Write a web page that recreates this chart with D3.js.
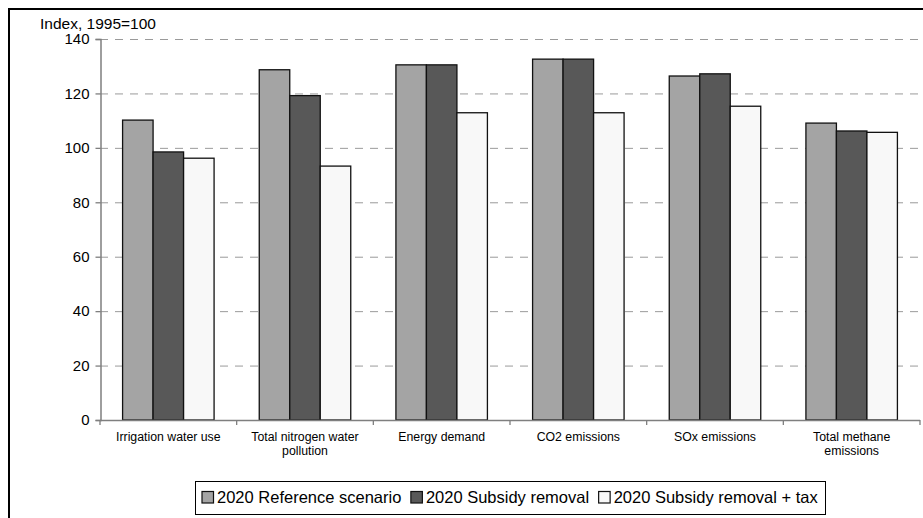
<!DOCTYPE html>
<html><head><meta charset="utf-8">
<script src="https://cdn.jsdelivr.net/npm/d3@7"></script>
<style>body{margin:0;background:#fff}svg{display:block;font-family:"Liberation Sans",Arial,sans-serif}</style>
</head><body>
<svg id="c" width="923" height="518"></svg>
<script>
const categories = ["Irrigation water use", "Total nitrogen water pollution", "Energy demand", "CO2 emissions", "SOx emissions", "Total methane emissions"];
const categoryLines = [["Irrigation water use"], ["Total nitrogen water", "pollution"], ["Energy demand"], ["CO2 emissions"], ["SOx emissions"], ["Total methane", "emissions"]];
const seriesNames = ["2020 Reference scenario", "2020 Subsidy removal", "2020 Subsidy removal + tax"];
const refValues = [110.2, 128.7, 130.5, 132.6, 126.4, 109.1];
const subsidyValues = [98.5, 119.2, 130.5, 132.6, 127.2, 106.2];
const taxValues = [96.2, 93.3, 112.9, 112.9, 115.3, 105.7];
const yTicks = [0, 20, 40, 60, 80, 100, 120, 140];
const colors = ["#a4a4a4", "#585858", "#f8f8f8"];
const yLabel = "Index, 1995=100";

const series = [refValues, subsidyValues, taxValues];
const svg = d3.select("#c");

// outer border
svg.append("rect").attr("x", 9).attr("y", 9).attr("width", 940).attr("height", 540)
  .attr("fill", "none").attr("stroke", "#000").attr("stroke-width", 2);

const x0 = d3.scaleBand().domain(categories).range([100, 920]).padding(0);
const groupW = 91.5;
const x1 = d3.scaleBand().domain(d3.range(3)).range([(x0.bandwidth() - groupW) / 2, (x0.bandwidth() + groupW) / 2]).padding(0);
const y = d3.scaleLinear().domain([0, 140]).range([420, 39]);

// gridlines
svg.append("g").selectAll("line").data(yTicks.filter(d => d > 0)).join("line")
  .attr("x1", 100).attr("x2", 920).attr("y1", d => y(d) + 0.5).attr("y2", d => y(d) + 0.5)
  .attr("stroke", "#9a9a9a").attr("stroke-width", 1).attr("stroke-dasharray", "8,7");

// bars
const g = svg.append("g");
categories.forEach((c, i) => {
  series.forEach((s, j) => {
    g.append("rect")
      .attr("x", x0(c) + x1(j)).attr("y", y(s[i]))
      .attr("width", x1.bandwidth()).attr("height", y(0) - y(s[i]))
      .attr("fill", colors[j]).attr("stroke", "#111").attr("stroke-width", 1.3);
  });
});

// y axis
const yAxis = d3.axisLeft(y).tickValues(yTicks).tickSize(5).tickPadding(6);
const ya = svg.append("g").attr("transform", "translate(100.5,0)").call(yAxis);
ya.select(".domain").attr("stroke", "#7f7f7f").attr("stroke-width", 1.5);
ya.selectAll(".tick line").attr("stroke", "#7f7f7f").attr("stroke-width", 1.3);
ya.selectAll(".tick text").attr("font-size", 15).attr("fill", "#000").attr("font-family", "Liberation Sans, Arial, sans-serif");

// x axis line and ticks (between categories)
svg.append("line").attr("x1", 100).attr("x2", 920).attr("y1", 420.5).attr("y2", 420.5)
  .attr("stroke", "#7f7f7f").attr("stroke-width", 1.5);
const bounds = categories.map(c => x0(c)).concat([x0(categories[5]) + x0.bandwidth()]);
svg.append("g").selectAll("line").data(bounds).join("line")
  .attr("x1", d => d).attr("x2", d => d).attr("y1", 420).attr("y2", 425)
  .attr("stroke", "#7f7f7f").attr("stroke-width", 1.3);

// category labels
categories.forEach((c, i) => {
  const t = svg.append("text").attr("text-anchor", "middle").attr("font-size", 12.3)
    .attr("x", x0(c) + x0.bandwidth() / 2).attr("y", 440.5).attr("fill", "#000");
  categoryLines[i].forEach((ln, k) => {
    t.append("tspan").attr("x", x0(c) + x0.bandwidth() / 2).attr("dy", k === 0 ? 0 : 14.5).text(ln);
  });
});

// y label
svg.append("text").attr("x", 40).attr("y", 29).attr("font-size", 15.5).attr("fill", "#000").text(yLabel);

// legend
svg.append("rect").attr("x", 195.5).attr("y", 481.5).attr("width", 630).attr("height", 33)
  .attr("fill", "#fff").attr("stroke", "#000").attr("stroke-width", 1);
let lx = 202;
seriesNames.forEach((n, j) => {
  svg.append("rect").attr("x", lx).attr("y", 491.5).attr("width", 11.5).attr("height", 11.5)
    .attr("fill", colors[j]).attr("stroke", "#111").attr("stroke-width", 1.2);
  const t = svg.append("text").attr("x", lx + 15).attr("y", 503).attr("font-size", 16.5).attr("fill", "#000").text(n);
  lx = lx + 15 + t.node().getComputedTextLength() + 9.5;
});
</script>
</body></html>
